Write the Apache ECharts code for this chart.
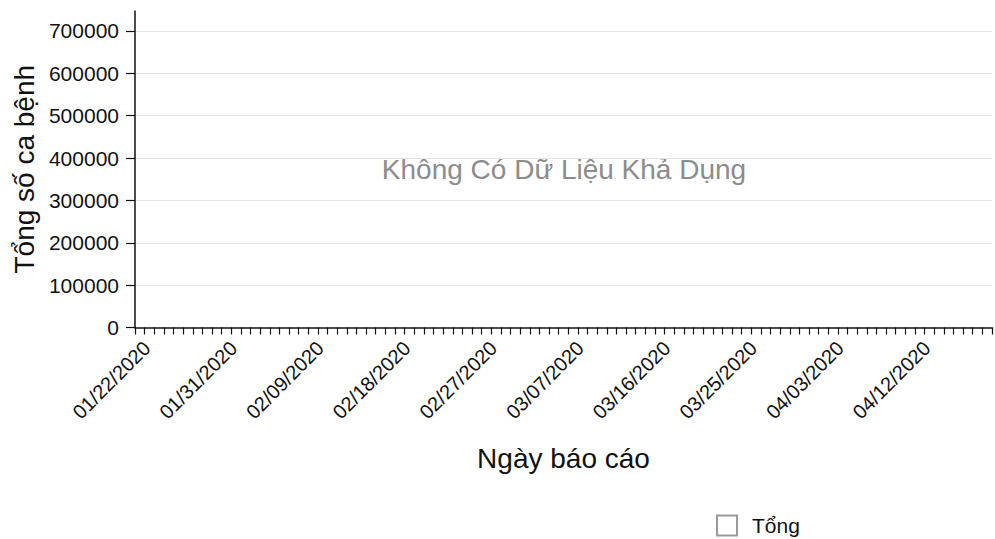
<!DOCTYPE html>
<html>
<head>
<meta charset="utf-8">
<script src="https://cdn.jsdelivr.net/npm/echarts@6/dist/echarts.min.js"></script>
<style>
html,body{margin:0;padding:0;background:#fff;}
#chart{width:995px;height:539px;}
</style>
</head>
<body>
<div id="chart"></div>
<script>
const reportDates = [
  "01/22/2020","01/23/2020","01/24/2020","01/25/2020","01/26/2020","01/27/2020","01/28/2020","01/29/2020","01/30/2020","01/31/2020",
  "02/01/2020","02/02/2020","02/03/2020","02/04/2020","02/05/2020","02/06/2020","02/07/2020","02/08/2020","02/09/2020","02/10/2020",
  "02/11/2020","02/12/2020","02/13/2020","02/14/2020","02/15/2020","02/16/2020","02/17/2020","02/18/2020","02/19/2020","02/20/2020",
  "02/21/2020","02/22/2020","02/23/2020","02/24/2020","02/25/2020","02/26/2020","02/27/2020","02/28/2020","02/29/2020",
  "03/01/2020","03/02/2020","03/03/2020","03/04/2020","03/05/2020","03/06/2020","03/07/2020","03/08/2020","03/09/2020","03/10/2020",
  "03/11/2020","03/12/2020","03/13/2020","03/14/2020","03/15/2020","03/16/2020","03/17/2020","03/18/2020","03/19/2020","03/20/2020",
  "03/21/2020","03/22/2020","03/23/2020","03/24/2020","03/25/2020","03/26/2020","03/27/2020","03/28/2020","03/29/2020","03/30/2020","03/31/2020",
  "04/01/2020","04/02/2020","04/03/2020","04/04/2020","04/05/2020","04/06/2020","04/07/2020","04/08/2020","04/09/2020","04/10/2020",
  "04/11/2020","04/12/2020","04/13/2020","04/14/2020","04/15/2020","04/16/2020","04/17/2020","04/18/2020","04/19/2020"
];
// No data available in the source chart
const totalCases = [];
const seriesName = "Tổng";
const yAxisTitle = "Tổng số ca bệnh";
const xAxisTitle = "Ngày báo cáo";
const noDataText = "Không Có Dữ Liệu Khả Dụng";
const yMin = 0, yMax = 747000, yStep = 100000;

const FONT = "'Liberation Sans', Arial, Helvetica, sans-serif";
const chart = echarts.init(document.getElementById('chart'), null, {renderer: 'svg'});
chart.setOption({
  animation: false,
  textStyle: {fontFamily: FONT},
  grid: {left: 135, right: 3, top: 11, bottom: 211.5, containLabel: false},
  xAxis: {
    type: 'category',
    data: reportDates,
    boundaryGap: true,
    name: xAxisTitle,
    nameLocation: 'middle',
    nameGap: 117,
    nameTextStyle: {fontSize: 28, color: '#111', fontFamily: FONT},
    axisLine: {lineStyle: {color: '#111', width: 1.5}},
    axisTick: {show: true, interval: 0, length: 7, lineStyle: {color: '#111', width: 1.2}},
    axisLabel: {interval: 8, rotate: 45, margin: 10, fontSize: 20, color: '#111', fontFamily: FONT,
      align: 'right', verticalAlign: 'top'},
    splitLine: {show: false}
  },
  yAxis: {
    type: 'value',
    min: yMin,
    max: yMax,
    interval: yStep,
    name: yAxisTitle,
    nameLocation: 'middle',
    nameRotate: 90,
    nameGap: 95,
    nameTextStyle: {fontSize: 28, color: '#111', fontFamily: FONT},
    axisLine: {show: true, lineStyle: {color: '#111', width: 1.5}},
    axisTick: {show: true, length: 9, lineStyle: {color: '#111', width: 1.2}},
    axisLabel: {margin: 16, fontSize: 21, color: '#111', fontFamily: FONT, showMaxLabel: false,
      formatter: function (v) { return String(v); }},
    splitLine: {show: true, showMinLine: false, showMaxLine: false, lineStyle: {color: '#e6e6e6', width: 1}}
  },
  legend: {
    left: 716,
    top: 514,
    padding: 0,
    itemWidth: 20,
    itemHeight: 20,
    itemGap: 15,
    textStyle: {fontSize: 21, lineHeight: 21, color: '#111', fontFamily: FONT, padding: [2, 0, 0, 10]},
    data: [{name: seriesName, icon: 'rect', itemStyle: {color: '#ffffff', borderColor: '#9a9a9a', borderWidth: 2}}]
  },
  graphic: [{
    type: 'text',
    x: 564,
    y: 169,
    style: {text: noDataText, font: '28px ' + FONT, fill: '#8c8c8c', textAlign: 'center', textVerticalAlign: 'middle'}
  }],
  series: [{
    name: seriesName,
    type: 'bar',
    data: totalCases,
    itemStyle: {color: '#ffffff', borderColor: '#9a9a9a', borderWidth: 2}
  }]
});
</script>
</body>
</html>
